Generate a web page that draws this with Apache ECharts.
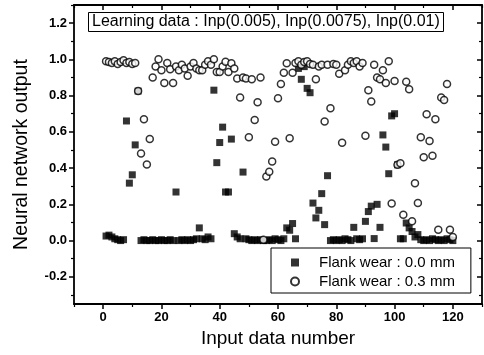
<!DOCTYPE html>
<html><head><meta charset="utf-8">
<script src="https://cdn.jsdelivr.net/npm/echarts@6/dist/echarts.min.js"></script>
<style>html,body{margin:0;padding:0;background:#fff}#c{width:484px;height:355px}</style>
</head><body><div id="c"></div>
<script>
// Input data number runs 1..120 (index of each value + 1)
const flankWear00 = [0.025,0.03,0.02,0.01,0.005,0.0,0.005,0.66,0.317,0.363,
 0.528,0.825,0.0,0.005,0.0,0.0,0.005,0.0,0.0,0.005,
 0.0,0.0,0.005,0.0,0.268,0.0,0.005,0.0,0.005,0.0,
 0.005,0.01,0.07,0.01,0.005,0.02,0.01,0.83,0.43,0.541,
 0.626,0.268,0.268,0.56,0.038,0.02,0.01,0.378,0.01,0.005,
 0.0,0.005,0.0,0.005,0.0,0.0,0.005,0.0,0.01,0.005,
 0.0,0.01,0.07,0.057,0.094,0.01,0.95,0.89,0.96,0.84,
 0.816,0.207,0.125,0.167,0.259,0.088,0.358,0.0,0.005,0.0,
 0.005,0.0,0.01,0.005,0.0,0.073,0.01,0.005,0.01,0.106,
 0.16,0.19,0.011,0.2,0.073,0.583,0.516,0.369,0.688,0.70,
 0.418,0.01,0.01,0.097,0.07,0.05,0.02,0.033,0.005,0.0,
 0.005,0.0,0.01,0.005,0.0,0.005,0.0,0.01,0.005,0.0];
const flankWear03 = [0.99,0.985,0.98,0.99,0.975,0.985,0.995,0.98,0.985,0.975,
 0.98,0.825,0.48,0.67,0.42,0.56,0.90,0.96,1.0,0.94,
 0.87,0.98,0.945,0.87,0.96,0.94,0.97,0.95,0.91,0.96,
 0.98,0.95,0.94,0.94,0.97,0.99,0.97,1.0,0.93,0.93,
 0.96,0.987,0.93,0.978,0.95,0.895,0.79,0.90,0.895,0.57,
 0.89,0.666,0.763,0.90,0.005,0.354,0.38,0.437,0.546,0.785,
 0.864,0.926,0.978,0.565,0.926,0.98,0.99,0.97,0.985,0.99,
 0.975,0.97,0.89,0.96,0.97,0.657,0.97,0.73,0.975,0.97,
 0.92,0.54,0.94,0.97,0.99,0.98,0.99,0.96,0.98,0.578,
 0.83,0.767,0.97,0.90,0.89,0.94,0.87,0.99,0.204,0.88,
 0.418,0.427,0.143,0.877,0.835,0.106,0.317,0.207,0.57,0.46,
 0.697,0.55,0.468,0.67,0.06,0.79,0.776,0.864,0.06,0.02];
const xTicks = [0,20,40,60,80,100,120];
const xMinor = [-10,10,30,50,70,90,110,130];
const yTicks = [-0.2,0,0.2,0.4,0.6,0.8,1.0,1.2];
const yMinor = [-0.3,-0.1,0.1,0.3,0.5,0.7,0.9,1.1,1.3];
const seriesNames = ['Flank wear : 0.0 mm','Flank wear : 0.3 mm'];
const boxTitle = 'Learning data : Inp(0.005), Inp(0.0075), Inp(0.01)';

const toPts = arr => arr.map((v,i)=>[i+1,v]);
const FONT = 'Liberation Sans';
const line = {show:true, onZero:false, lineStyle:{color:'#000', width:1.8}};
const noLine = {show:false, onZero:false};
const baseX = {type:'value', min:-10, max:130, splitLine:{show:false}};
const baseY = {type:'value', min:-0.35, max:1.3, splitLine:{show:false}};

const chart = echarts.init(document.getElementById('c'), null, {renderer:'canvas'});
chart.setOption({
  animation:false,
  backgroundColor:'#fff',
  textStyle:{fontFamily:FONT},
  grid:{left:74, right:2, top:5, bottom:51, containLabel:false},
  title:{text:boxTitle, left:88, top:12, padding:[2,4,2,4], borderColor:'#000', borderWidth:1,
    textStyle:{fontSize:16, fontWeight:'normal', color:'#000', fontFamily:FONT}},
  legend:{orient:'vertical', left:271, top:248, borderColor:'#000', borderWidth:1,
    padding:[6,16,3,19], itemGap:2, itemWidth:8, itemHeight:8,
    formatter: n => '{s|}' + n,
    textStyle:{fontSize:15, color:'#000', fontFamily:FONT, lineHeight:17,
      rich:{s:{width:15}}}, data:seriesNames},
  xAxis:[
    Object.assign({}, baseX, {position:'bottom', name:'Input data number', nameLocation:'middle', nameGap:23,
      nameTextStyle:{fontSize:19, color:'#000', fontFamily:FONT},
      axisLine:line, axisTick:{show:true, inside:false, length:5, lineStyle:{color:'#000',width:1.5}, customValues:xTicks},
      axisLabel:{show:true, customValues:xTicks, fontSize:13, fontWeight:'bold', color:'#000', margin:7, fontFamily:FONT}}),
    Object.assign({}, baseX, {position:'bottom', axisLine:noLine,
      axisTick:{show:true, inside:false, length:3, lineStyle:{color:'#000',width:1.2}, customValues:xMinor},
      axisLabel:{show:false}}),
    Object.assign({}, baseX, {position:'top', axisLine:line,
      axisTick:{show:true, inside:true, length:5, lineStyle:{color:'#000',width:1.5}, customValues:xTicks},
      axisLabel:{show:false}}),
    Object.assign({}, baseX, {position:'top', axisLine:noLine,
      axisTick:{show:true, inside:true, length:3, lineStyle:{color:'#000',width:1.2}, customValues:xMinor},
      axisLabel:{show:false}})
  ],
  yAxis:[
    Object.assign({}, baseY, {position:'left', name:'Neural network output', nameLocation:'middle', nameGap:42,
      nameTextStyle:{fontSize:19.5, color:'#000', fontFamily:FONT},
      axisLine:line, axisTick:{show:true, inside:false, length:5, lineStyle:{color:'#000',width:1.5}, customValues:yTicks},
      axisLabel:{show:true, customValues:yTicks, fontSize:13, fontWeight:'bold', color:'#000', margin:7, fontFamily:FONT,
        formatter:v=>v.toFixed(1)}}),
    Object.assign({}, baseY, {position:'left', axisLine:noLine,
      axisTick:{show:true, inside:false, length:3, lineStyle:{color:'#000',width:1.2}, customValues:yMinor},
      axisLabel:{show:false}}),
    Object.assign({}, baseY, {position:'right', axisLine:line,
      axisTick:{show:true, inside:true, length:5, lineStyle:{color:'#000',width:1.5}, customValues:yTicks},
      axisLabel:{show:false}}),
    Object.assign({}, baseY, {position:'right', axisLine:noLine,
      axisTick:{show:true, inside:true, length:3, lineStyle:{color:'#000',width:1.2}, customValues:yMinor},
      axisLabel:{show:false}})
  ],
  series:[
    {name:seriesNames[0], type:'scatter', xAxisIndex:0, yAxisIndex:0, symbol:'rect', symbolSize:7,
      itemStyle:{color:'#000'}, data:toPts(flankWear00), z:2},
    {name:seriesNames[1], type:'scatter', xAxisIndex:0, yAxisIndex:0, symbol:'circle', symbolSize:7,
      itemStyle:{color:'#fff', borderColor:'#000', borderWidth:1.5}, data:toPts(flankWear03), z:3}
  ]
});
</script></body></html>
